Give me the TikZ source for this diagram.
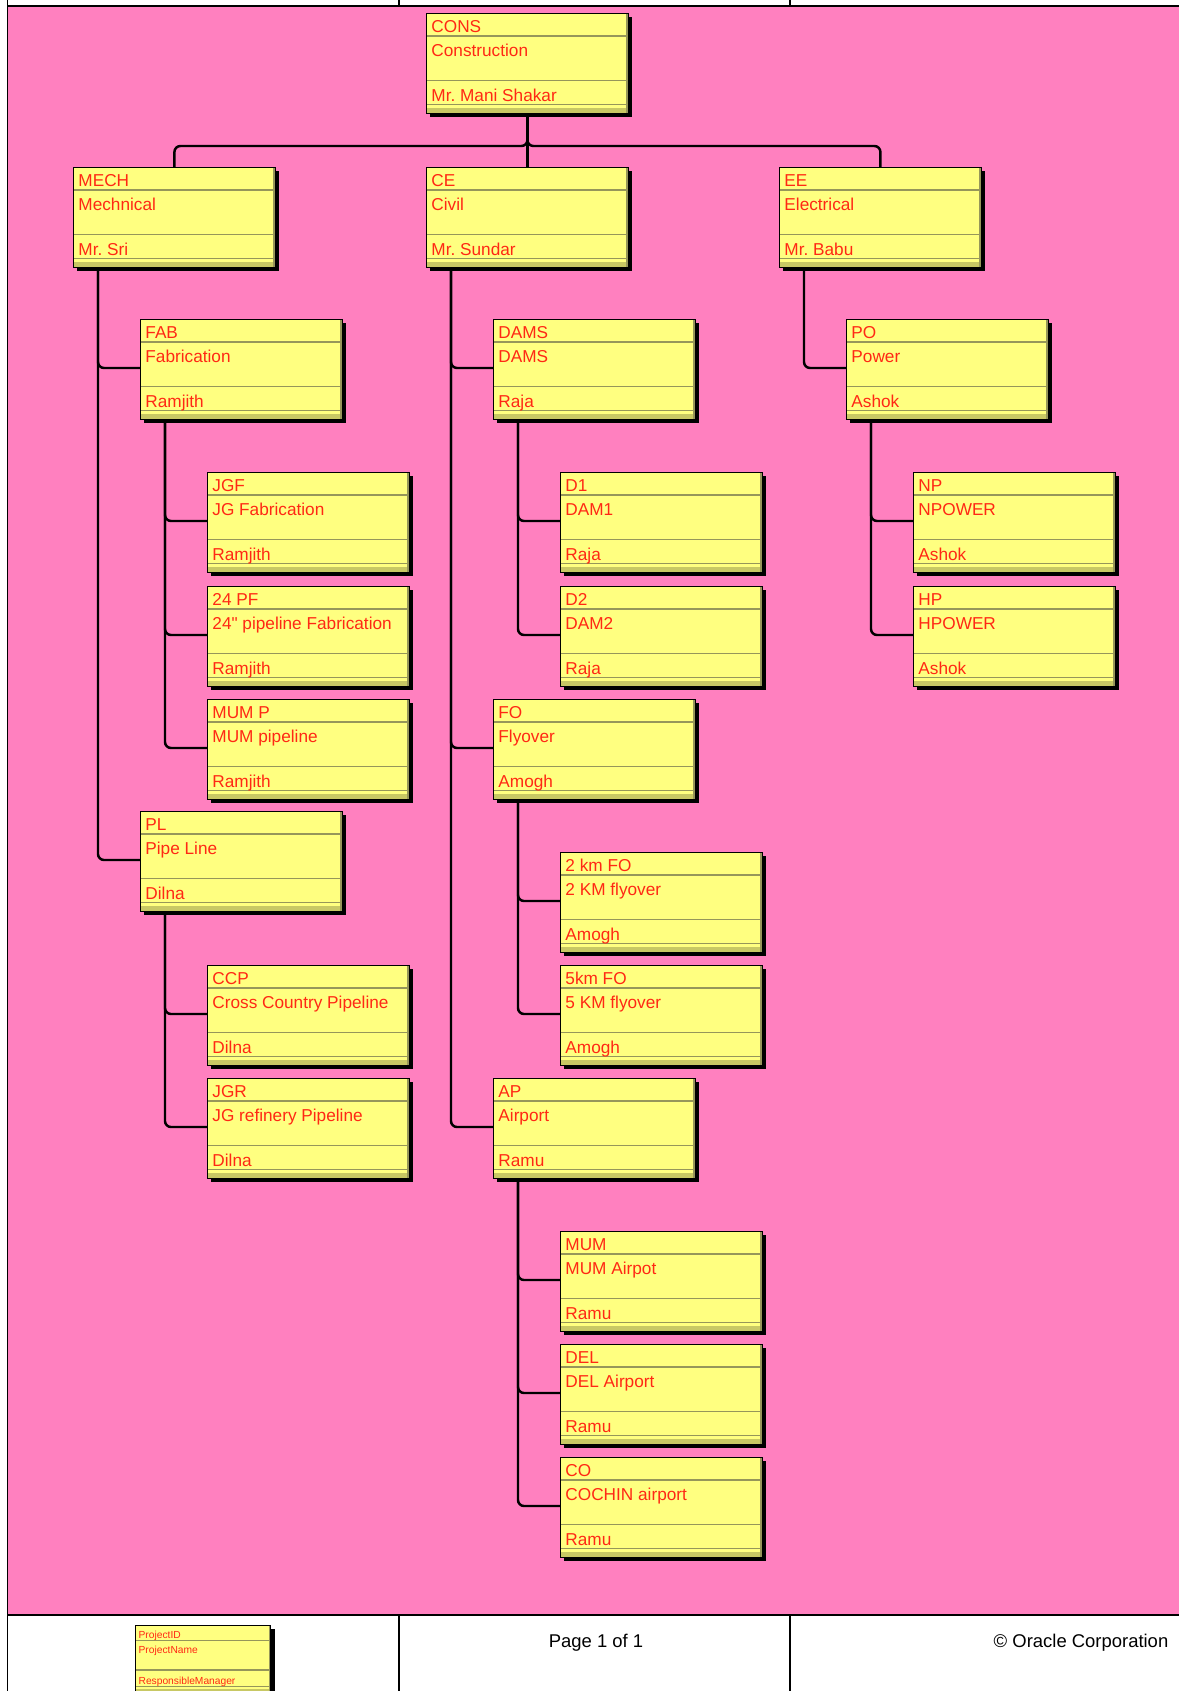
\documentclass[tikz,border=0pt]{standalone}
\usepackage{fontspec}
\newfontfamily\unitfont{Liberation Sans}
\usetikzlibrary{shapes.multipart, shadows}
\frenchspacing

\definecolor{pagepink}{RGB}{255,128,191}
\definecolor{unityellow}{RGB}{255,255,128}
\definecolor{unitred}{RGB}{255,40,20}
\definecolor{sepolive}{RGB}{150,150,90}
\definecolor{stripyellow}{RGB}{200,200,100}

\newcommand{\unittext}[3]{%
    \makebox[3.84cm][l]{#1\rule[-0.07cm]{0pt}{0.45cm}}%
    \nodepart{two}\makebox[3.84cm][l]{#2\rule[-0.504cm]{0pt}{0.884cm}}%
    \nodepart{three}\makebox[3.84cm][l]{#3\rule[-0.1cm]{0pt}{0.486cm}}%
    \nodepart{four}\makebox[3.84cm][l]{\rule{0pt}{0.1cm}}}

\begin{document}
\begin{tikzpicture}[x=0.02cm, y=-0.02cm,
    sepline/.style = {draw=sepolive, line width=0.7pt},
    unit/.style = {rectangle split, rectangle split parts=4,
        rectangle split draw splits=false,
        anchor=north west, draw=black, line width=0.5pt,
        fill=unityellow, text=unitred,
        font=\unitfont\fontsize{9.8}{12}\selectfont,
        inner xsep=0.1cm, inner ysep=0pt,
        drop shadow={shadow xshift=0.08cm, shadow yshift=-0.08cm,
            fill=black, opacity=1},
        path picture={
            \fill [stripyellow] (path picture bounding box.south west)
                rectangle ([yshift=0.1cm]path picture bounding box.south east);
            \foreach \d in {0.45,1.334,1.82}
                \draw [sepline] ([yshift=-\d cm]path picture bounding box.north west)
                    -- ([yshift=-\d cm]path picture bounding box.north east);
            \draw [sepline] ([xshift=-0.03cm]path picture bounding box.north east)
                -- ([xshift=-0.03cm]path picture bounding box.south east);
        }},
    link/.style = {line width=1.4pt, rounded corners=0.12cm},
    elbow/.style = {to path={|- (\tikztotarget)}},
    bus/.style = {to path={-- (\tikztostart |- bus) -| (\tikztotarget)}},
    frame/.style = {line width=0.8pt},
    footer/.style = {font=\unitfont\fontsize{10.5}{12}\selectfont,
        anchor=base, inner sep=0pt}]
    \useasboundingbox (0,0) rectangle (1179,1691);
    % \draw [help lines, step=1cm] (0,0) grid (1179,1691);

    % page
    \fill [pagepink] (8,7) rectangle (1179,1615);
    \draw [frame] (7.5,0) -- (7.5,1691);
    \draw [frame] (7.5,6) -- (1179,6);
    \draw [frame] (7.5,1615) -- (1179,1615);
    \draw [frame] (399,0) -- (399,6) (790,0) -- (790,6);
    \draw [frame] (399,1615) -- (399,1691) (790,1615) -- (790,1691);

    % units
    \node (cons) [unit] at (426,13) {\unittext{CONS}{Construction}{Mr. Mani Shakar}};

    \node (mech) [unit] at (73,167) {\unittext{MECH}{Mechnical}{Mr. Sri}};
    \node (ce) [unit] at (426,167) {\unittext{CE}{Civil}{Mr. Sundar}};
    \node (ee) [unit] at (779,167) {\unittext{EE}{Electrical}{Mr. Babu}};

    \node (fab) [unit] at (140,319) {\unittext{FAB}{Fabrication}{Ramjith}};
    \node (jgf) [unit] at (207,472) {\unittext{JGF}{JG Fabrication}{Ramjith}};
    \node (pf24) [unit] at (207,586) {\unittext{24 PF}{24" pipeline Fabrication}{Ramjith}};
    \node (mump) [unit] at (207,699) {\unittext{MUM P}{MUM pipeline}{Ramjith}};
    \node (pl) [unit] at (140,811) {\unittext{PL}{Pipe Line}{Dilna}};
    \node (ccp) [unit] at (207,965) {\unittext{CCP}{Cross Country Pipeline}{Dilna}};
    \node (jgr) [unit] at (207,1078) {\unittext{JGR}{JG refinery Pipeline}{Dilna}};

    \node (dams) [unit] at (493,319) {\unittext{DAMS}{DAMS}{Raja}};
    \node (d1) [unit] at (560,472) {\unittext{D1}{DAM1}{Raja}};
    \node (d2) [unit] at (560,586) {\unittext{D2}{DAM2}{Raja}};
    \node (fo) [unit] at (493,699) {\unittext{FO}{Flyover}{Amogh}};
    \node (km2) [unit] at (560,852) {\unittext{2 km FO}{2 KM flyover}{Amogh}};
    \node (km5) [unit] at (560,965) {\unittext{5km FO}{5 KM flyover}{Amogh}};
    \node (ap) [unit] at (493,1078) {\unittext{AP}{Airport}{Ramu}};
    \node (mum) [unit] at (560,1231) {\unittext{MUM}{MUM Airpot}{Ramu}};
    \node (del) [unit] at (560,1344) {\unittext{DEL}{DEL Airport}{Ramu}};
    \node (co) [unit] at (560,1457) {\unittext{CO}{COCHIN airport}{Ramu}};

    \node (po) [unit] at (846,319) {\unittext{PO}{Power}{Ashok}};
    \node (np) [unit] at (913,472) {\unittext{NP}{NPOWER}{Ashok}};
    \node (hp) [unit] at (913,586) {\unittext{HP}{HPOWER}{Ashok}};

    % links
    \coordinate (bus) at (527,146);
    \path [link]
        (cons.south) edge [bus] (mech.north)
        (cons.south) edge (ce.north)
        (cons.south) edge [bus] (ee.north);
    \path [link]
        ([xshift=0.5cm]mech.south west) edge [elbow] ([yshift=-0.98cm]fab.north west)
                                        edge [elbow] ([yshift=-0.98cm]pl.north west)
        ([xshift=0.5cm]fab.south west) edge [elbow] ([yshift=-0.98cm]jgf.north west)
                                       edge [elbow] ([yshift=-0.98cm]pf24.north west)
                                       edge [elbow] ([yshift=-0.98cm]mump.north west)
        ([xshift=0.5cm]pl.south west) edge [elbow] ([yshift=-0.98cm]ccp.north west)
                                      edge [elbow] ([yshift=-0.98cm]jgr.north west);
    \path [link]
        ([xshift=0.5cm]ce.south west) edge [elbow] ([yshift=-0.98cm]dams.north west)
                                      edge [elbow] ([yshift=-0.98cm]fo.north west)
                                      edge [elbow] ([yshift=-0.98cm]ap.north west)
        ([xshift=0.5cm]dams.south west) edge [elbow] ([yshift=-0.98cm]d1.north west)
                                        edge [elbow] ([yshift=-0.98cm]d2.north west)
        ([xshift=0.5cm]fo.south west) edge [elbow] ([yshift=-0.98cm]km2.north west)
                                      edge [elbow] ([yshift=-0.98cm]km5.north west)
        ([xshift=0.5cm]ap.south west) edge [elbow] ([yshift=-0.98cm]mum.north west)
                                      edge [elbow] ([yshift=-0.98cm]del.north west)
                                      edge [elbow] ([yshift=-0.98cm]co.north west);
    \path [link]
        ([xshift=0.5cm]ee.south west) edge [elbow] ([yshift=-0.98cm]po.north west)
        ([xshift=0.5cm]po.south west) edge [elbow] ([yshift=-0.98cm]np.north west)
                                      edge [elbow] ([yshift=-0.98cm]hp.north west);

    % footer
    \node (legend) [unit, scale=0.67, font=\unitfont\fontsize{8.7}{10}\selectfont]
        at (135,1625) {\unittext{ProjectID}{ProjectName}{ResponsibleManager}};
    \node (page) [footer] at (596,1647) {Page 1 of 1};
    \node (corp) [footer] at (1081,1647) {© Oracle Corporation};
\end{tikzpicture}
\end{document}
